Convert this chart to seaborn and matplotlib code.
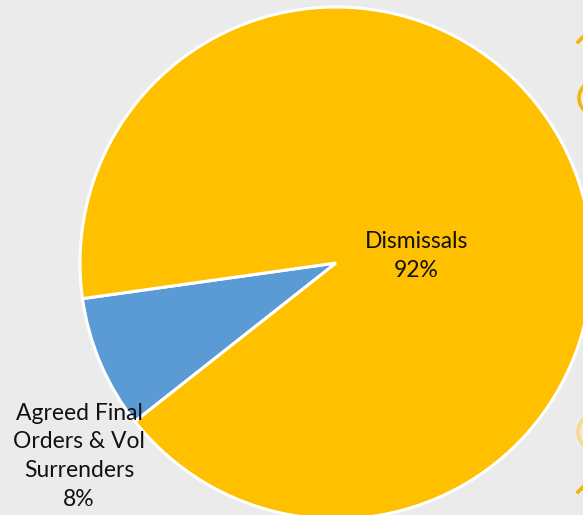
import matplotlib
matplotlib.use("Agg")
import matplotlib.pyplot as plt
import seaborn as sns
from matplotlib.patches import Circle, Polygon

categories = ["Agreed Final\nOrders & Vol\nSurrenders", "Dismissals"]
values = [8.4, 91.6]
colors = ["#5B9BD5", "#FFC000"]

sns.set_theme(style="white")
plt.rcParams['font.family'] = ['Lato', 'DejaVu Sans']

W, H = 583, 515
fig = plt.figure(figsize=(W / 100, H / 100), dpi=100, facecolor="#EBEBEB")

cx, cy, r = 336, 263, 256
ax = fig.add_axes([(cx - r) / W, (H - cy - r) / H, 2 * r / W, 2 * r / H])
ax.set_facecolor("#EBEBEB")

wedges, _ = ax.pie(values, colors=colors, startangle=188.0, counterclock=True,
                   radius=1.0, wedgeprops=dict(edgecolor="white", linewidth=2.2))
for w in wedges:
    w.set_clip_on(False)
ax.set_xlim(-1, 1)
ax.set_ylim(-1, 1)
ax.set_aspect("equal")
ax.axis("off")

label_pos = [(-1.004, -0.755), (0.314, 0.028)]
for cat, v, (x, y) in zip(categories, values, label_pos):
    ax.text(x, y, f"{cat}\n{v:.0f}%", ha="center", va="center", fontsize=16.5,
            color="#111111", linespacing=1.46)

# decorative clipped shapes at right edge (figure pixel coords)
def px(x, y):
    return (x / W, 1 - y / H)

fig.patches.append(Circle(px(601, 98), 22 / W, transform=fig.transFigure,
                          fill=False, edgecolor="#F2B705", linewidth=2.5))
fig.patches.append(Circle(px(600, 432), 22 / W, transform=fig.transFigure,
                          fill=False, edgecolor="#FDD68C", linewidth=2.5))
for (lx, ly) in [(577, 43), (577, 493)]:
    d = 7
    pts = [px(lx, ly), px(lx + d, ly - d), px(lx + 2 * d, ly), px(lx + d, ly + d)]
    fig.patches.append(Polygon(pts, closed=True, transform=fig.transFigure,
                               fill=False, edgecolor="#F2B705", linewidth=2.5))

fig.savefig("out.png", dpi=100, facecolor=fig.get_facecolor())
